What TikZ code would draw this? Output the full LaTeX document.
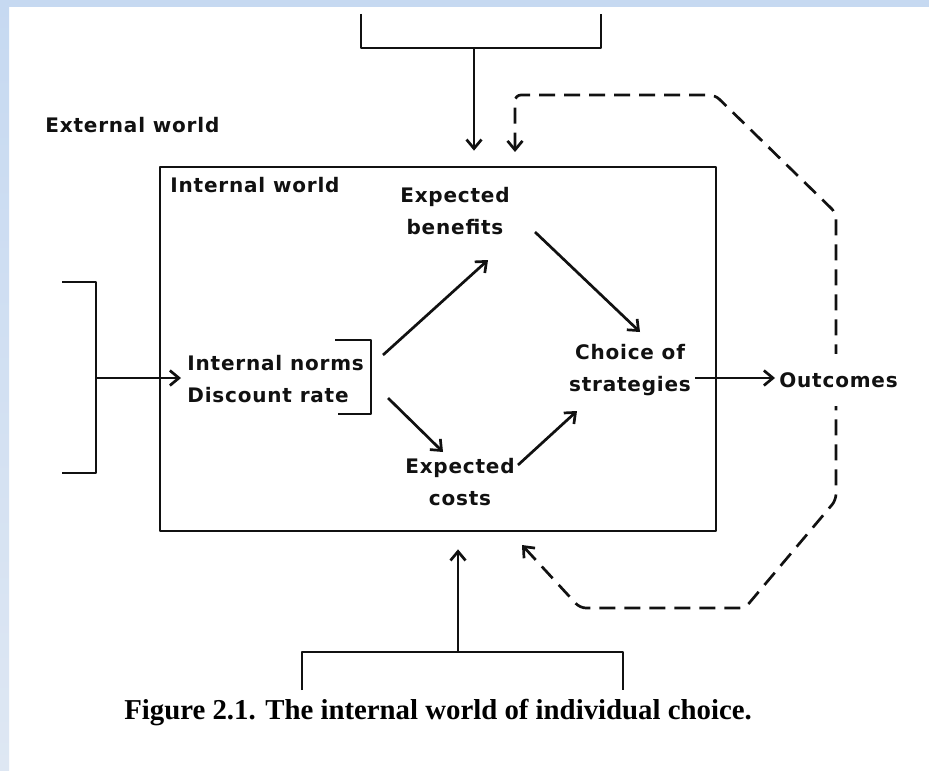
\documentclass[tikz,border=0pt]{standalone}
\usepackage{fontspec}
\usepackage{tikz}
\usetikzlibrary{arrows.meta, positioning, calc}
\setmainfont{Liberation Serif}
\newfontfamily\letterfont[LetterSpace=4]{DejaVu Sans}
\definecolor{framecolor}{HTML}{C6D9F1}
\definecolor{framepale}{HTML}{DEE7F3}
\definecolor{inkcolor}{HTML}{111111}

\begin{document}
\begin{tikzpicture}[x=0.5pt, y=-0.5pt,
  ink/.style={line width=1.35pt, color=inkcolor, line join=round},
  arr/.style={ink, -{Straight Barb[length=4.5pt, width=7.5pt]}},
  feedback/.style={ink, dash pattern=on 8pt off 4.5pt, rounded corners=3pt},
  lettering/.style={font=\letterfont\bfseries\fontsize{10}{16}\selectfont,
    text=inkcolor, inner sep=0pt, align=center}]
  \useasboundingbox (0,0) rectangle (929,770);
  % page and frame
  \fill[white] (0,0) rectangle (929,770);
  \fill[framecolor] (0,0) rectangle (929,7);
  \shade[top color=framecolor, bottom color=framepale] (0,0) rectangle (9,770);
  % internal world box
  \node[ink, draw, minimum width=278pt, minimum height=182pt, inner sep=0pt]
    (world) at (438,349) {};
  \node[lettering, anchor=west] (external) at (45,125) {External world};
  \node[lettering, anchor=west] (internal) at (170,185) {Internal world};
  \node[lettering] (benefits) at (455,211) {Expected\\benefits};
  \node[lettering, anchor=west, align=left] (norms) at (187,379)
    {Internal norms\\Discount rate};
  \node[lettering] (costs) at (460,482) {Expected\\costs};
  \node[lettering] (choice) at (630,370) {Choice of\\strategies};
  % feedback loop
  \coordinate (fbIn) at (515,167);
  \coordinate (fbBack) at (522,545);
  \draw[feedback, {Straight Barb[length=4.5pt, width=7.5pt]}-{Straight Barb[length=4.5pt, width=7.5pt]},
    shorten <=7.5pt]
    (fbIn) -- (515,95) -- (715,95) -- (836,213) -- (836,500)
    -- (745,608) -- (580,608) -- (fbBack);
  \node[lettering, anchor=west, fill=white, inner ysep=9pt, inner xsep=1pt]
    (outcomes) at (777,380) {Outcomes};
  % outside brackets
  \draw[ink] (361,14) -- (361,48) -- (601,48) -- (601,14);
  \coordinate (topStem) at (474,48);
  \draw[arr, shorten >=7.5pt] (topStem) -- (topStem |- world.north);
  \draw[ink] (302,690) -- (302,652) -- (623,652) -- (623,690);
  \coordinate (bottomStem) at (458,652);
  \draw[arr, shorten >=8.5pt] (bottomStem) -- (bottomStem |- world.south);
  \draw[ink] (62,282) -- (96,282) -- (96,473) -- (62,473);
  \coordinate (leftStem) at (96,378);
  \draw[arr, shorten >=3pt] (leftStem) -- (leftStem -| norms.west);
  % norms bracket
  \draw[ink] (335,340) -- (371,340) -- (371,414) -- (338,414);
  \coordinate (normsUp) at (383,355);
  \coordinate (normsDown) at (388,398);
  \coordinate (benefitsIn) at (488,260);
  \coordinate (benefitsOut) at (535,232);
  \coordinate (costsIn) at (443,452);
  \coordinate (costsOut) at (518,465);
  \coordinate (choiceUp) at (640,332);
  \coordinate (choiceDown) at (577,411);
  \draw[arr] (normsUp) -- (benefitsIn);
  \draw[arr] (normsDown) -- (costsIn);
  \draw[arr] (benefitsOut) -- (choiceUp);
  \draw[arr] (costsOut) -- (choiceDown);
  \draw[arr] (choice.east |- outcomes.west) ++(4,-2) -- ($(outcomes.west)+(-2,-2)$);
  % caption
  \node[font=\bfseries\fontsize{14.4}{16}\selectfont] (caption) at (438,713)
    {Figure 2.1. The internal world of individual choice.};
\end{tikzpicture}
\end{document}
